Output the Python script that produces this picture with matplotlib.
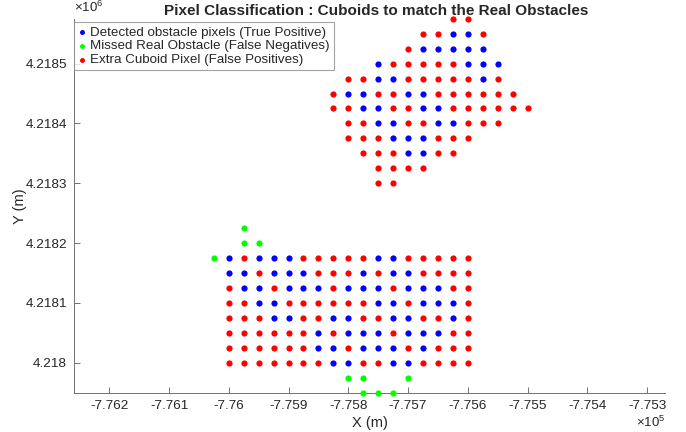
import matplotlib
matplotlib.use("Agg")
import matplotlib.pyplot as plt
from matplotlib.ticker import MultipleLocator, FuncFormatter

plt.rcParams["font.family"] = ["Liberation Sans", "DejaVu Sans"]
plt.rcParams["mathtext.fontset"] = "custom"
plt.rcParams["mathtext.rm"] = "Liberation Sans"
plt.rcParams["mathtext.it"] = "Liberation Sans"

# Grid cell centres (UTM-like metres)
eastings = [-776025, -776000, -775975, -775950, -775925, -775900, -775875,
            -775850, -775825, -775800, -775775, -775750, -775725, -775700,
            -775675, -775650, -775625, -775600, -775575, -775550, -775525,
            -775500]
northings = [4218575, 4218550, 4218525, 4218500, 4218475, 4218450, 4218425,
             4218400, 4218375, 4218350, 4218325, 4218300, 4218275, 4218250,
             4218225, 4218200, 4218175, 4218150, 4218125, 4218100, 4218075,
             4218050, 4218025, 4218000, 4217975, 4217950]

# Per-cell classification, one string per northing, one char per easting
# B = true positive, G = false negative, R = false positive, . = empty
class_rows = [
    "................RR....",
    "..............RRBBR...",
    ".............RBBBBB...",
    "...........BRRRRRBBB..",
    ".........RRBBRRRRRBR..",
    "........RBBRRBBRRRRRR.",
    "........RRBBRRBBRRRRRR",
    ".........RRBBRRBBRRR..",
    ".........RRRBBBRRR....",
    "..........RRRBBRR.....",
    "...........RRRR.......",
    "...........RR.........",
    "......................",
    "......................",
    "..G...................",
    "..GG..................",
    "GBRBBBRRRRRBBRRRRR....",
    ".BBRBBBRRRBRBBRRRR....",
    ".RBBRBBBRBBBRBBBRR....",
    ".RRBBRRRRRRBBRBBBR....",
    ".RRRBBRRBBRRBBRRBR....",
    ".RRRRRRBRBBBRBBBRR....",
    ".RRRRRRBBRBBBRBRRR....",
    ".RRRRRRRBBRRBBRRRR....",
    ".........GG..G........",
    "..........GGG.........",
]

classes = [
    ("B", "Detected obstacle pixels (True Positive)", "#0000ff"),
    ("G", "Missed Real Obstacle (False Negatives)", "#00ff00"),
    ("R", "Extra Cuboid Pixel (False Positives)", "#ff0000"),
]

text_color = "#262626"
axis_color = "#707070"

fig = plt.figure(figsize=(6.86, 4.32), dpi=100)
ax = fig.add_axes([0.1079, 0.091, 0.8615, 0.8657])

for code, label, color in classes:
    xs, ys = [], []
    for north, row in zip(northings, class_rows):
        for east, ch in zip(eastings, row):
            if ch == code:
                xs.append(east)
                ys.append(north)
    ax.scatter(xs, ys, s=20, c=color, linewidths=0, label=label,
               clip_on=False, zorder=3)

ax.set_xlim(-776259, -775270)
ax.set_ylim(4217950, 4218575)

ax.xaxis.set_major_locator(MultipleLocator(100))
ax.yaxis.set_major_locator(MultipleLocator(100))
ax.xaxis.set_major_formatter(FuncFormatter(lambda v, p: "%g" % round(v / 1e5, 4)))
ax.yaxis.set_major_formatter(FuncFormatter(lambda v, p: "%g" % round(v / 1e6, 5)))

for side in ("top", "right"):
    ax.spines[side].set_visible(False)
for side in ("left", "bottom"):
    ax.spines[side].set_color(axis_color)
    ax.spines[side].set_linewidth(0.7)

ax.tick_params(direction="in", length=4, width=0.7, color=axis_color,
               labelsize=9.7, labelcolor=text_color, pad=5)

ax.set_xlabel("X (m)", fontsize=10.5, color=text_color, labelpad=3)
ax.set_ylabel("Y (m)", fontsize=10.5, color=text_color, labelpad=-1)
ax.set_title("Pixel Classification : Cuboids to match the Real Obstacles",
             fontsize=11, fontweight="bold", color=text_color, pad=3, x=0.511)

ax.text(0.0, 1.01, r"$\times10^{6}$", transform=ax.transAxes, fontsize=9.5,
        color=text_color, ha="left", va="bottom")
ax.text(1.0, -0.06, r"$\times10^{5}$", transform=ax.transAxes, fontsize=9.5,
        color=text_color, ha="right", va="top")

leg = ax.legend(loc="upper left", bbox_to_anchor=(0.0, 0.99), fontsize=9.6,
                frameon=True, fancybox=False, borderaxespad=0,
                handlelength=0.6, handletextpad=0.35, labelspacing=0.12,
                borderpad=0.28, markerscale=0.8)
leg.get_frame().set_edgecolor("#8c8c8c")
leg.get_frame().set_linewidth(0.8)
for t in leg.get_texts():
    t.set_color(text_color)

fig.savefig("out.png", dpi=100)
